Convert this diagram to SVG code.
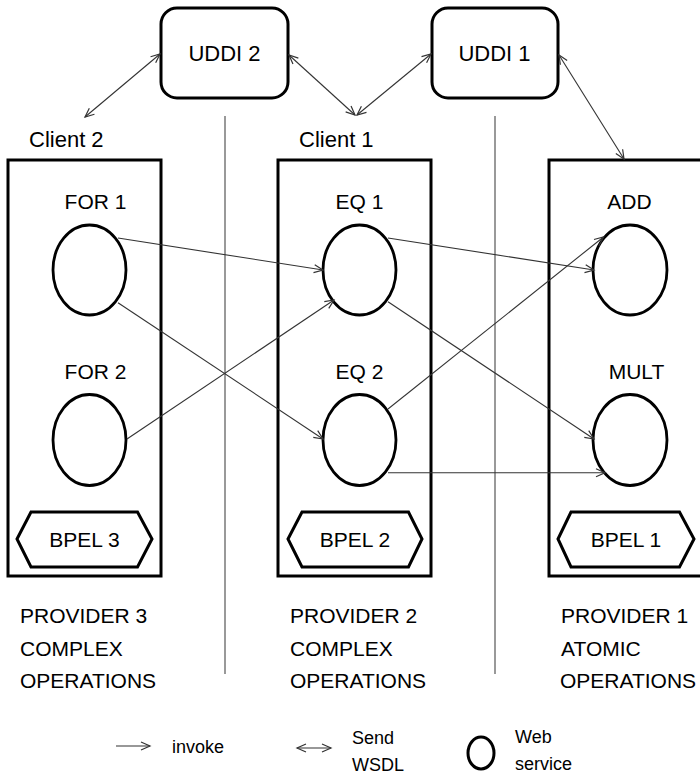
<svg xmlns="http://www.w3.org/2000/svg" width="700" height="774" viewBox="0 0 700 774">
<defs>
<style>
text{font-family:"Liberation Sans",Arial,sans-serif;fill:#000}
.lbl{font-size:21px;text-anchor:middle}
.big{font-size:22px}
.prov{font-size:21px}
.leg{font-size:18px}
.box{fill:none;stroke:#000;stroke-width:3}
.ws{fill:#fff;stroke:#000;stroke-width:2.8}
.hex{fill:#fff;stroke:#000;stroke-width:3;stroke-linejoin:miter}
.div{stroke:#555;stroke-width:1.2}
.con{stroke:#333;stroke-width:1.1;fill:none}
</style>
<marker id="ah" markerUnits="userSpaceOnUse" markerWidth="12" markerHeight="12" refX="10" refY="5" viewBox="0 0 12 10" orient="auto-start-reverse">
<path d="M1,1 L10,5 L1,9" fill="none" stroke="#333" stroke-width="1.2"/>
</marker>
</defs>

<g id="dividers">
<line class="div" x1="225" y1="116" x2="225" y2="674"/>
<line class="div" x1="495" y1="116" x2="495" y2="674"/>
</g>

<g id="uddi2">
<rect class="box" x="161" y="8" width="127" height="90" rx="16"/>
<text class="big" x="224.5" y="61" text-anchor="middle">UDDI 2</text>
</g>
<g id="uddi1">
<rect class="box" x="432" y="8" width="126" height="90" rx="16"/>
<text class="big" x="494.5" y="61" text-anchor="middle">UDDI 1</text>
</g>

<g id="client2"><text class="big" x="29" y="147">Client 2</text></g>
<g id="client1"><text class="big" x="299" y="147">Client 1</text></g>

<g id="provider3">
<rect class="box" x="8" y="160" width="153" height="416"/>
<polygon class="hex" points="17,539 31,512 137.5,512 152,539 137.5,567 31,567"/>
<text class="lbl" x="84.5" y="547">BPEL 3</text>
<text class="prov" x="20" y="623">PROVIDER 3</text>
<text class="prov" x="20" y="656">COMPLEX</text>
<text class="prov" x="20" y="688">OPERATIONS</text>
</g>
<g id="provider2">
<rect class="box" x="278" y="160" width="153" height="416"/>
<polygon class="hex" points="288,539 302,512 408.5,512 422,539 408.5,567 302,567"/>
<text class="lbl" x="355" y="547">BPEL 2</text>
<text class="prov" x="290" y="623">PROVIDER 2</text>
<text class="prov" x="290" y="656">COMPLEX</text>
<text class="prov" x="290" y="688">OPERATIONS</text>
</g>
<g id="provider1">
<rect class="box" x="549" y="160" width="200" height="416"/>
<polygon class="hex" points="558,539 571,512 679.5,512 694,539 679.5,567 571,567"/>
<text class="lbl" x="626" y="547">BPEL 1</text>
<text class="prov" x="561" y="623">PROVIDER 1</text>
<text class="prov" x="561" y="656">ATOMIC</text>
<text class="prov" x="560" y="688">OPERATIONS</text>
</g>

<g id="for1"><text class="lbl" x="95.5" y="209">FOR 1</text><ellipse class="ws" cx="89.5" cy="270" rx="36.5" ry="45"/></g>
<g id="for2"><text class="lbl" x="95.5" y="379">FOR 2</text><ellipse class="ws" cx="89.5" cy="440" rx="36.5" ry="45.5"/></g>
<g id="eq1"><text class="lbl" x="359.5" y="209">EQ 1</text><ellipse class="ws" cx="359.5" cy="270" rx="36.5" ry="45"/></g>
<g id="eq2"><text class="lbl" x="359.5" y="379">EQ 2</text><ellipse class="ws" cx="359.5" cy="440" rx="36.5" ry="45.5"/></g>
<g id="add"><text class="lbl" x="629.5" y="209">ADD</text><ellipse class="ws" cx="630" cy="270" rx="37" ry="45"/></g>
<g id="mult"><text class="lbl" x="636.5" y="379">MULT</text><ellipse class="ws" cx="630" cy="440" rx="37" ry="45.5"/></g>

<g id="connectors">
<line class="con" x1="85" y1="117" x2="160" y2="54" marker-start="url(#ah)" marker-end="url(#ah)"/>
<line class="con" x1="289" y1="55" x2="355" y2="115" marker-start="url(#ah)" marker-end="url(#ah)"/>
<line class="con" x1="357" y1="115" x2="431" y2="54" marker-start="url(#ah)" marker-end="url(#ah)"/>
<line class="con" x1="559" y1="55" x2="624" y2="159" marker-start="url(#ah)" marker-end="url(#ah)"/>
<line class="con" x1="118" y1="238" x2="323" y2="270" marker-end="url(#ah)"/>
<line class="con" x1="118" y1="302.7" x2="323" y2="439" marker-end="url(#ah)"/>
<line class="con" x1="127" y1="439" x2="334" y2="300" marker-end="url(#ah)"/>
<line class="con" x1="388" y1="238" x2="594" y2="270" marker-end="url(#ah)"/>
<line class="con" x1="388" y1="301.7" x2="594" y2="439" marker-end="url(#ah)"/>
<line class="con" x1="388" y1="409" x2="603.5" y2="237" marker-end="url(#ah)"/>
<line class="con" x1="388" y1="472.7" x2="605" y2="472.7" marker-end="url(#ah)"/>
</g>

<g id="legend">
<line class="con" x1="116" y1="746" x2="150" y2="746" marker-end="url(#ah)"/>
<text class="leg" x="172" y="753">invoke</text>
<line class="con" x1="297" y1="748" x2="331" y2="748" marker-start="url(#ah)" marker-end="url(#ah)"/>
<text class="leg" x="352" y="744">Send</text>
<text class="leg" x="352" y="771">WSDL</text>
<ellipse cx="481" cy="753" rx="13" ry="16" fill="none" stroke="#000" stroke-width="3"/>
<text class="leg" x="515" y="743">Web</text>
<text class="leg" x="515" y="770">service</text>
</g>
</svg>
